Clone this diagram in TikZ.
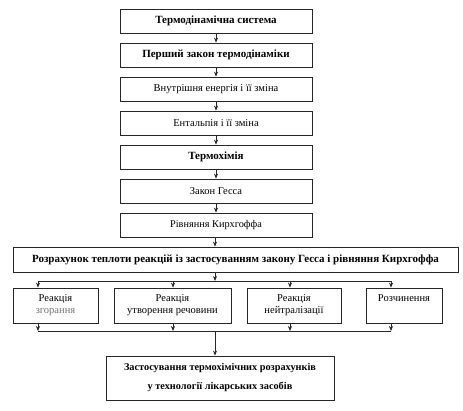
\documentclass[tikz,border=0pt]{standalone}
\usepackage{fontspec}
\setmainfont{Liberation Serif}
\usetikzlibrary{arrows.meta}
\begin{document}
\begin{tikzpicture}[x=1pt,y=-1pt,
  box/.style={draw=black!85,line width=0.8pt,rectangle,inner sep=1pt,align=center,font=\fontsize{10.5}{12}\selectfont},
  bbox/.style={box,font=\fontsize{11}{13}\selectfont\bfseries},
  topbox/.style={minimum width=192pt,minimum height=24pt},
  subbox/.style={minimum height=35pt},
  arr/.style={-{Stealth[length=5pt,width=4pt]},line width=0.6pt,draw=black!85},
  ln/.style={line width=0.6pt,draw=black!85}]
\useasboundingbox (0,0) rectangle (463,410);
\node[bbox,topbox] (b1) at (216,21) {Термодінамічна система};
\node[bbox,topbox] (b2) at (216,55) {Перший закон термодінаміки};
\node[box,topbox] (b3) at (216,89) {Внутрішня енергія і її зміна};
\node[box,topbox] (b4) at (216,123) {Ентальпія і її зміна};
\node[bbox,topbox] (b5) at (216,157) {Термохімія};
\node[box,topbox] (b6) at (216,191) {Закон Гесса};
\node[box,topbox,font=\fontsize{10.3}{12}\selectfont] (b7) at (216,225) {Рівняння Кирхгоффа};
\node[bbox,minimum width=445pt,minimum height=25pt] (wide) at (235.5,259.5) {Розрахунок теплоти реакцій із застосуванням закону Гесса і рівняння Кирхгоффа};
\node[box,subbox,minimum width=85pt] (sa) at (55.5,305.5) {Реакція\\ \textcolor{black!55}{згорання}};
\node[box,subbox,minimum width=117pt] (sb) at (172.5,305.5) {Реакція\\ утворення речовини};
\node[box,subbox,minimum width=94pt] (sc) at (294,305.5) {Реакція\\ нейтралізації};
\node[box,subbox,minimum width=76pt] (sd) at (404,305.5) {Розчинення\\ \strut};
\node[bbox,font=\fontsize{10.3}{19}\selectfont\bfseries,minimum width=228pt,minimum height=44pt] (fin) at (220,378) {Застосування термохімічних розрахунків\\ у технології лікарських засобів};
\draw[arr] (b1) -- (b2);
\draw[arr] (b2) -- (b3);
\draw[arr] (b3) -- (b4);
\draw[arr] (b4) -- (b5);
\draw[arr] (b5) -- (b6);
\draw[arr] (b6) -- (b7);
\coordinate (tm) at (215,281);
\coordinate (ta) at (38,281);
\coordinate (tb) at (173,281);
\coordinate (tc) at (290,281);
\coordinate (td) at (391,281);
\coordinate (ba) at (38,331);
\coordinate (bb) at (173,331);
\coordinate (bc) at (290,331);
\coordinate (bd) at (391,331);
\coordinate (bm) at (215,331);
\draw[arr] (b7.south -| tm) -- (wide.north -| tm);
\draw[arr] (wide.south -| tm) -- (tm);
\draw[ln] (ta) -- (td);
\draw[arr] (ta) -- (sa.north -| ta);
\draw[arr] (tb) -- (sb.north -| tb);
\draw[arr] (tc) -- (sc.north -| tc);
\draw[arr] (td) -- (sd.north -| td);
\draw[arr] (sa.south -| ba) -- (ba);
\draw[arr] (sb.south -| bb) -- (bb);
\draw[arr] (sc.south -| bc) -- (bc);
\draw[arr] (sd.south -| bd) -- (bd);
\draw[ln] (ba) -- (bd);
\draw[arr] (bm) -- (fin.north -| bm);
\end{tikzpicture}
\end{document}
